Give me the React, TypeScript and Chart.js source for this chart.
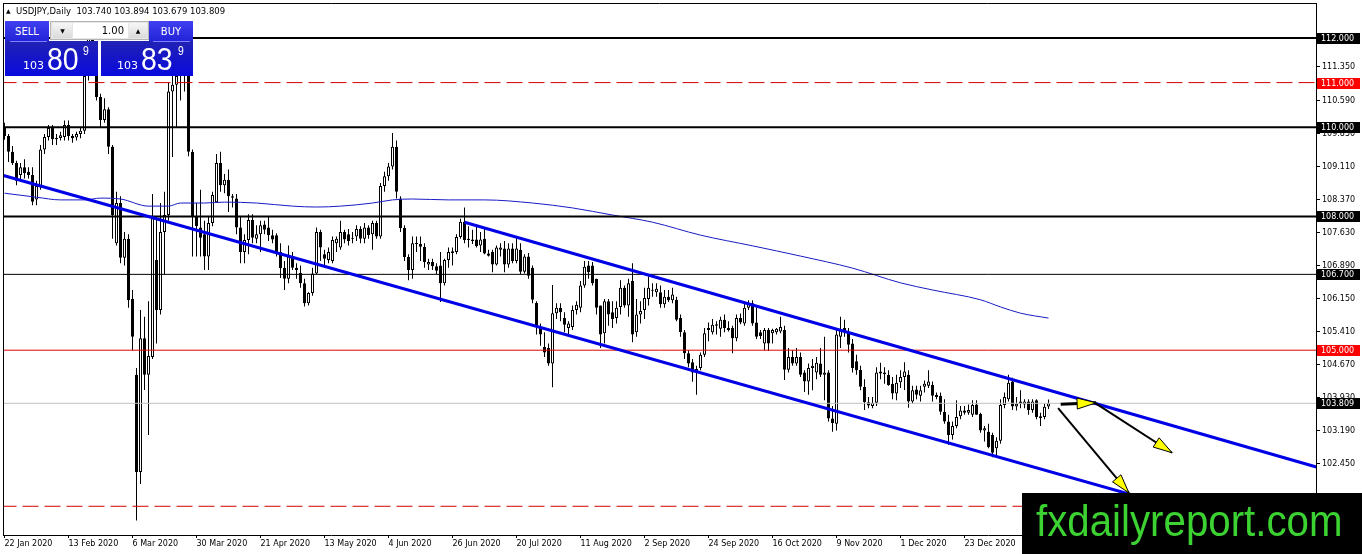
import React, { useEffect, useRef } from 'react';
import { Chart, registerables } from 'chart.js';

Chart.register(...registerables);

// ---------- candle data (USDJPY daily), one entry per bar ----------
const opens = [
  110.00,109.80,109.45,109.20,108.93,109.10,109.00,108.93,108.38,108.66,
  109.50,109.78,109.98,109.73,109.76,109.78,110.05,109.80,109.77,109.85,
  109.92,111.15,112.05,111.50,110.68,110.16,110.40,109.56,107.40,108.30,
  107.07,107.50,106.15,104.45,102.27,105.27,104.45,104.85,107.02,105.90,
  107.65,108.03,110.80,110.95,111.15,111.25,111.30,109.45,108.00,107.75,
  107.60,107.10,107.85,108.32,109.20,108.70,108.82,108.45,108.40,107.75,
  107.20,107.47,107.92,107.50,107.60,107.82,107.75,107.58,107.58,107.20,
  106.85,106.60,107.10,106.85,106.73,106.50,106.05,106.28,106.72,107.65,
  107.15,107.02,107.00,107.40,107.30,107.65,107.60,107.50,107.55,107.72,
  107.50,107.75,107.60,107.85,107.55,108.68,108.90,109.12,109.56,108.40,
  107.74,107.09,106.80,107.38,107.38,107.32,106.92,106.98,106.88,106.90,
  106.50,107.02,107.18,107.20,107.54,107.88,107.50,107.48,107.48,107.35,
  107.50,107.17,107.20,106.92,107.25,107.28,106.92,107.28,107.00,107.25,
  106.76,107.10,106.85,106.06,105.52,105.07,105.05,104.70,105.83,105.95,
  105.72,105.50,105.52,105.90,105.95,106.45,106.90,106.90,106.60,106.00,
  105.38,106.10,105.85,105.72,105.97,106.40,106.00,106.55,105.40,105.80,
  105.90,106.15,106.35,106.30,106.30,106.03,106.20,106.12,106.13,105.72,
  105.40,104.93,104.73,104.50,104.60,104.90,105.45,105.40,105.55,105.48,
  105.68,105.50,105.50,105.27,105.72,105.60,105.95,106.05,105.62,105.40,
  105.15,105.45,105.38,105.40,105.42,105.45,104.56,104.85,104.70,104.85,
  104.50,104.30,104.60,104.50,104.70,104.45,104.50,103.47,103.35,105.30,
  105.50,105.40,105.15,104.75,104.56,104.18,103.83,103.75,103.82,104.48,
  104.46,104.45,104.25,104.03,104.28,104.40,104.45,103.85,104.12,103.98,
  104.18,104.20,104.22,104.00,103.98,103.62,103.40,103.10,103.30,103.52,
  103.65,103.60,103.55,103.78,103.57,103.20,103.17,103.10,102.80,102.97,
  103.77,103.90,104.30,103.74,103.85,103.78,103.85,103.66,103.88,103.52,
  103.50,103.740,
];
const highs = [
  110.10,109.85,109.58,109.25,109.20,109.28,109.10,109.10,108.80,109.60,
  109.85,110.05,110.05,109.85,109.90,110.15,110.15,109.85,109.90,110.00,
  111.25,112.20,112.20,111.55,110.75,110.65,110.45,109.60,108.55,108.45,
  107.65,107.60,106.35,104.60,105.90,105.75,106.10,108.50,108.00,108.30,
  108.55,111.00,111.60,111.50,111.70,111.70,111.40,109.50,108.30,108.60,
  107.90,108.00,108.55,109.40,109.45,108.95,109.05,108.50,108.50,108.00,
  107.60,108.05,108.05,107.80,107.90,107.90,108.00,107.70,107.62,107.40,
  107.00,107.35,107.20,106.95,106.90,106.60,106.30,106.85,107.75,107.70,
  107.25,107.30,107.55,107.55,107.90,107.70,107.72,107.65,107.80,107.78,
  107.85,107.80,107.90,107.90,108.75,109.00,109.20,109.87,109.70,108.45,
  107.80,107.15,107.55,107.55,107.55,107.40,107.05,107.05,106.95,107.20,
  107.05,107.30,107.30,107.60,107.95,108.20,107.78,107.70,107.78,107.65,
  107.72,107.25,107.25,107.35,107.40,107.45,107.40,107.40,107.55,107.40,
  107.15,107.18,106.90,106.10,105.60,105.40,105.15,106.46,106.05,106.05,
  105.85,105.65,106.00,106.10,106.55,107.00,107.00,106.98,106.60,106.00,
  106.15,106.15,106.10,106.10,106.57,106.45,106.60,106.95,106.15,106.10,
  106.40,106.65,106.50,106.50,106.45,106.35,106.35,106.40,106.20,105.80,
  105.45,105.00,104.80,104.65,104.95,105.50,105.62,105.70,105.65,105.75,
  105.80,105.65,105.55,105.80,105.82,106.05,106.12,106.12,105.95,105.45,
  105.50,105.50,105.48,105.50,105.75,105.55,105.05,105.00,105.05,104.95,
  104.55,104.70,104.80,104.85,105.05,105.30,104.55,103.75,105.50,105.75,
  105.68,105.50,105.25,104.90,104.65,104.35,103.95,103.95,104.62,104.72,
  104.62,104.55,104.40,104.45,104.55,104.73,104.55,104.20,104.20,104.20,
  104.32,104.55,104.30,104.05,104.05,103.90,103.55,103.40,103.88,103.75,
  103.75,103.78,103.88,103.88,103.60,103.30,103.35,103.15,103.05,103.90,
  104.05,104.45,104.38,103.95,104.10,103.90,103.90,103.90,103.90,103.60,
  103.80,103.894,
];
const lows = [
  109.72,109.22,109.15,108.70,108.80,108.85,108.85,108.25,108.25,108.60,
  109.40,109.70,109.60,109.60,109.70,109.70,109.70,109.65,109.70,109.75,
  109.85,111.05,111.30,110.60,110.00,110.10,109.40,107.50,107.35,106.95,
  106.90,105.95,105.00,101.18,102.00,104.11,103.10,104.80,105.15,105.80,
  106.70,107.90,109.33,110.00,110.60,110.80,109.35,107.10,107.10,107.10,
  106.80,106.80,107.78,108.30,108.55,108.52,108.10,108.20,107.60,106.95,
  106.95,107.15,107.40,107.40,107.20,107.60,107.45,107.40,107.10,106.62,
  106.35,106.50,106.80,106.60,106.40,105.98,106.00,106.22,106.70,107.00,
  106.90,106.95,106.95,107.20,107.25,107.40,107.35,107.40,107.45,107.40,
  107.40,107.50,107.25,107.50,107.50,108.55,108.80,109.05,108.40,107.65,
  107.00,106.57,106.60,107.20,107.00,106.85,106.80,106.80,106.70,106.08,
  106.45,106.85,106.90,107.15,107.50,107.40,107.30,107.38,107.30,107.20,
  107.15,107.10,106.75,106.90,107.10,106.75,106.85,106.95,106.95,106.70,
  106.72,106.60,106.05,105.35,105.10,104.85,104.65,104.17,105.70,105.65,
  105.40,105.30,105.45,105.80,105.85,106.40,106.60,106.45,105.80,105.05,
  105.15,105.55,105.50,105.60,105.80,105.95,105.75,105.18,105.30,105.60,
  105.70,106.00,106.20,106.20,105.95,105.95,106.08,106.05,105.65,105.30,
  104.80,104.62,104.29,104.00,104.55,104.85,105.20,105.35,105.35,105.30,
  105.40,105.42,104.93,105.20,105.58,105.55,105.90,105.55,105.25,105.25,
  105.00,104.98,105.15,105.35,105.38,104.33,104.50,104.65,104.65,104.40,
  104.06,104.00,104.10,104.35,104.40,103.88,103.40,103.17,103.20,105.05,
  105.30,104.95,104.50,104.45,104.10,103.66,103.70,103.70,103.75,104.35,
  104.25,104.20,103.90,103.88,104.15,104.11,103.71,103.80,103.90,103.85,
  104.05,104.15,103.85,103.90,103.55,103.35,102.88,103.00,103.25,103.45,
  103.55,103.55,103.50,103.55,103.15,102.95,102.80,102.60,102.62,102.90,
  103.70,103.85,103.66,103.65,103.70,103.70,103.55,103.60,103.45,103.30,
  103.45,103.679,
];
const closes = [
  109.80,109.45,109.20,108.80,109.10,108.97,108.93,108.33,108.68,109.50,
  109.78,109.98,109.73,109.76,109.82,110.05,109.80,109.75,109.85,109.92,
  111.15,112.05,111.55,110.68,110.16,110.40,109.56,108.03,108.30,107.07,
  107.50,106.12,105.30,102.27,105.27,104.45,104.87,107.96,105.90,107.65,
  108.03,110.80,110.95,111.15,111.25,111.30,109.45,108.00,107.78,107.52,
  107.10,107.85,108.48,109.20,108.70,108.82,108.45,108.42,107.75,107.20,
  107.47,107.92,107.52,107.60,107.80,107.70,107.58,107.48,107.20,106.84,
  106.60,107.10,106.85,106.80,106.50,106.05,106.28,106.72,107.65,107.30,
  107.05,107.20,107.47,107.50,107.65,107.48,107.45,107.52,107.72,107.50,
  107.75,107.58,107.85,107.55,108.68,108.90,109.12,109.56,108.55,107.74,
  107.09,106.80,107.40,107.40,107.32,106.98,106.98,106.88,106.78,106.50,
  107.02,107.20,107.22,107.54,107.88,107.47,107.47,107.45,107.33,107.48,
  107.17,107.12,106.92,107.30,107.30,106.92,107.28,107.00,107.28,106.76,
  107.10,106.67,106.13,105.52,105.35,104.95,104.70,105.83,105.95,105.85,
  105.57,105.60,105.90,106.02,106.45,106.87,106.75,106.50,105.95,105.35,
  106.10,105.80,105.70,105.95,106.40,106.00,106.50,105.35,105.80,105.88,
  106.17,106.40,106.33,106.38,106.03,106.20,106.12,106.25,105.68,105.40,
  104.93,104.70,104.50,104.58,104.90,105.38,105.50,105.57,105.58,105.68,
  105.50,105.45,105.27,105.72,105.62,105.95,106.05,105.60,105.30,105.32,
  105.45,105.15,105.45,105.48,105.52,104.56,104.85,104.70,104.85,104.45,
  104.30,104.60,104.65,104.72,104.45,104.50,103.47,103.37,105.35,105.45,
  105.42,105.12,104.60,104.55,104.18,103.83,103.76,103.82,104.50,104.52,
  104.50,104.22,104.03,104.27,104.40,104.52,103.85,104.10,104.00,104.10,
  104.25,104.30,103.98,103.95,103.62,103.40,103.10,103.30,103.50,103.65,
  103.60,103.66,103.77,103.55,103.20,103.25,102.83,102.70,102.97,103.77,
  103.95,104.27,103.74,103.80,103.80,103.85,103.66,103.85,103.50,103.48,
  103.73,103.809,
];

// ---------- axes ----------
const dateTickLabels = [
  '22 Jan 2020', '13 Feb 2020', '6 Mar 2020', '30 Mar 2020', '21 Apr 2020',
  '13 May 2020', '4 Jun 2020', '26 Jun 2020', '20 Jul 2020', '11 Aug 2020',
  '2 Sep 2020', '24 Sep 2020', '16 Oct 2020', '9 Nov 2020', '1 Dec 2020',
  '23 Dec 2020',
];
const barsPerDateTick = 16;
const priceTicks = [
  111.35, 110.59, 109.85, 109.11, 108.37, 107.63, 106.89, 106.15,
  105.41, 104.67, 103.93, 103.19, 102.45,
];

// ---------- moving average (sampled along the curve) ----------
const maBars = [0, 8, 14, 20, 24, 29, 36, 41, 44, 50, 55, 63, 72, 78, 84, 92, 97, 102, 111, 120, 132, 142, 152, 162, 174, 187, 199, 212, 224, 232, 244, 249, 254, 261];
const maValues = [108.52, 108.43, 108.37, 108.37, 108.41, 108.39, 108.23, 108.23, 108.30, 108.30, 108.32, 108.30, 108.23, 108.21, 108.23, 108.30, 108.37, 108.39, 108.37, 108.37, 108.30, 108.19, 108.03, 107.87, 107.58, 107.34, 107.11, 106.84, 106.51, 106.35, 106.13, 105.97, 105.83, 105.72];

// ---------- channel (trend lines): [bar, price] end points ----------
const upperChannelBars = [115, 328];
const upperChannelPrices = [107.87, 102.38];
const lowerChannelBars = [-1, 329];
const lowerChannelPrices = [108.935, 100.56];

// ---------- horizontal levels ----------
const levelValues = [112.0, 111.0, 110.0, 108.0, 106.7, 105.0, 103.809, 101.5];
const levelLabels = ['112.000', '111.000', '110.000', '108.000', '106.700', '105.000', '103.809', ''];

// ---------- arrows: start / tip in [bar, price] ----------
const arrowStartBars = [264.05, 272.6, 263.4];
const arrowStartPrices = [103.79, 103.82, 103.70];
const arrowEndBars = [272.9, 291.9, 281.1];
const arrowEndPrices = [103.82, 102.70, 101.80];

// ---------- header ----------
const symbolTitle = 'USDJPY,Daily';
const lastOHLC = ['103.740', '103.894', '103.679', '103.809'];
const lotSize = '1.00';
const watermarkText = 'fxdailyreport.com';

// styles (kept apart from values)
const levelColors = ['#000000', '#d40000', '#000000', '#000000', '#000000', '#e00000', '#c0c0c0', '#d40000'];
const levelWidths = [2, 1, 2, 2, 1, 1, 1, 1];
const levelDashed = [false, true, false, false, false, false, false, true];
const levelLabelBg = ['#000000', '#ff0000', '#000000', '#000000', '#000000', '#ff0000', '#000000', ''];
const arrowWidths = [3, 2, 2];

const AXIS_FONT = '"DejaVu Sans", sans-serif';

export default function App() {
  const ref = useRef<HTMLCanvasElement>(null);

  useEffect(() => {
    const canvas = ref.current;
    if (!canvas) return;

    const idx = closes.map((_, i) => i);

    const overlay = {
      id: 'mtOverlay',
      afterDatasetsDraw(chart: any) {
        const { ctx, scales } = chart;
        const xs = scales.x, ys = scales.y;
        ctx.save();
        for (let k = 0; k < arrowEndBars.length; k++) {
          const sx = xs.getPixelForValue(arrowStartBars[k]);
          const sy = ys.getPixelForValue(arrowStartPrices[k]);
          const tx = xs.getPixelForValue(arrowEndBars[k]);
          const ty = ys.getPixelForValue(arrowEndPrices[k]);
          const ang = Math.atan2(ty - sy, tx - sx);
          const L = 19, W = 5.5;
          const bx = tx - L * Math.cos(ang), by = ty - L * Math.sin(ang);
          const px = -Math.sin(ang) * W, py = Math.cos(ang) * W;
          ctx.beginPath();
          ctx.moveTo(tx, ty);
          ctx.lineTo(bx + px, by + py);
          ctx.lineTo(bx - px, by - py);
          ctx.closePath();
          ctx.fillStyle = '#ffff00';
          ctx.fill();
          ctx.lineWidth = 1;
          ctx.strokeStyle = '#000000';
          ctx.stroke();
        }
        ctx.restore();
      },
      afterDraw(chart: any) {
        const { ctx, chartArea, scales } = chart;
        const ys = scales.y;
        ctx.save();
        // frame: left and top edges
        ctx.strokeStyle = '#000';
        ctx.lineWidth = 1;
        ctx.beginPath();
        ctx.moveTo(chartArea.left + 0.5, chartArea.top);
        ctx.lineTo(chartArea.left + 0.5, chartArea.bottom);
        ctx.moveTo(chartArea.left, chartArea.top + 0.5);
        ctx.lineTo(chartArea.right, chartArea.top + 0.5);
        ctx.stroke();
        // price labels of the levels on the right scale
        ctx.font = '8px ' + AXIS_FONT;
        ctx.textBaseline = 'middle';
        ctx.textAlign = 'left';
        for (let k = 0; k < levelValues.length; k++) {
          if (!levelLabels[k]) continue;
          const y = Math.round(ys.getPixelForValue(levelValues[k]));
          ctx.fillStyle = levelLabelBg[k];
          ctx.fillRect(chartArea.right + 1, y - 5, 43, 11);
          ctx.fillStyle = '#ffffff';
          ctx.fillText(levelLabels[k], chartArea.right + 5, y + 0.5);
        }
        // watermark
        ctx.fillStyle = '#000000';
        ctx.fillRect(1022, 493, 340, 61);
        ctx.fillStyle = '#3cd232';
        ctx.font = '44px "Liberation Sans", Arial, sans-serif';
        ctx.textBaseline = 'alphabetic';
        ctx.translate(1036, 536);
        ctx.scale(0.915, 1);
        ctx.fillText(watermarkText, 0, 0);
        ctx.restore();
      },
    };

    const levelDatasets = levelValues.map((v, k) => ({
      type: 'line' as const,
      data: [{ x: -1, y: v }, { x: 330, y: v }],
      borderColor: levelColors[k],
      borderWidth: levelWidths[k],
      borderDash: levelDashed[k] ? [16, 6] : [],
      pointRadius: 0,
      clip: 0,
      order: 3,
    }));

    const arrowDatasets = arrowEndBars.map((_, k) => ({
      type: 'line' as const,
      data: [
        { x: arrowStartBars[k], y: arrowStartPrices[k] },
        { x: arrowEndBars[k], y: arrowEndPrices[k] },
      ],
      borderColor: '#000000',
      borderWidth: arrowWidths[k],
      pointRadius: 0,
      clip: 0,
      order: 1,
    }));

    const chart = new Chart(canvas, {
      type: 'bar',
      data: {
        datasets: [
          {
            type: 'bar',
            data: idx.map((i) => ({ x: i, y: [lows[i], highs[i]] })),
            backgroundColor: '#000000',
            borderWidth: 0,
            barThickness: 1,
            grouped: false,
            inflateAmount: 0,
            order: 6,
          } as any,
          {
            type: 'bar',
            data: idx.map((i) => ({ x: i, y: [opens[i], closes[i]] })),
            backgroundColor: idx.map((i) => (closes[i] >= opens[i] ? '#ffffff' : '#000000')),
            borderColor: '#000000',
            borderWidth: 1,
            borderSkipped: false,
            barThickness: 3,
            minBarLength: 1,
            grouped: false,
            inflateAmount: 0,
            order: 5,
          } as any,
          {
            type: 'line',
            data: maBars.map((b, k) => ({ x: b, y: maValues[k] })),
            borderColor: '#1a1ac4',
            borderWidth: 1,
            pointRadius: 0,
            cubicInterpolationMode: 'monotone',
            clip: 0,
            order: 4,
          } as any,
          ...levelDatasets,
          {
            type: 'line',
            data: upperChannelBars.map((b, k) => ({ x: b, y: upperChannelPrices[k] })),
            borderColor: '#0000e6',
            borderWidth: 3,
            pointRadius: 0,
            clip: 0,
            order: 2,
          } as any,
          {
            type: 'line',
            data: lowerChannelBars.map((b, k) => ({ x: b, y: lowerChannelPrices[k] })),
            borderColor: '#0000e6',
            borderWidth: 3,
            pointRadius: 0,
            clip: 0,
            order: 2,
          } as any,
          ...arrowDatasets,
        ],
      },
      options: {
        responsive: false,
        animation: false,
        events: [],
        devicePixelRatio: 1,
        layout: { padding: { left: 3, top: 3, right: 0, bottom: 0 } },
        plugins: { legend: { display: false }, tooltip: { enabled: false } },
        scales: {
          x: {
            type: 'linear',
            min: -0.375,
            max: 327.875,
            offset: false,
            grid: { display: true, drawOnChartArea: false, drawTicks: true, tickLength: 3, color: '#000', offset: false },
            border: { display: true, color: '#000', width: 1 },
            ticks: {
              color: '#000',
              font: { family: AXIS_FONT, size: 8 },
              align: 'start',
              maxRotation: 0,
              minRotation: 0,
              autoSkip: false,
              padding: 1,
              callback: (v: any) => {
                const k = Math.round(Number(v) / barsPerDateTick);
                return dateTickLabels[k] ?? '';
              },
            },
            afterBuildTicks: (s: any) => {
              s.ticks = dateTickLabels.map((_, k) => ({ value: k * barsPerDateTick }));
            },
            afterFit: (s: any) => {
              s.height = 19;
              s.paddingLeft = 0;
              s.paddingRight = 0;
            },
          } as any,
          y: {
            type: 'linear',
            position: 'right',
            min: 100.856,
            max: 112.785,
            beginAtZero: false,
            grid: { display: true, drawOnChartArea: false, drawTicks: true, tickLength: 4, color: '#000' },
            border: { display: true, color: '#000', width: 1 },
            ticks: {
              color: '#000',
              font: { family: AXIS_FONT, size: 8 },
              autoSkip: false,
              padding: 2,
              callback: (v: any) => Number(v).toFixed(3),
            },
            afterBuildTicks: (s: any) => {
              s.ticks = priceTicks.map((v) => ({ value: v }));
            },
            afterFit: (s: any) => {
              s.width = 46;
              s.paddingTop = 0;
              s.paddingBottom = 0;
            },
          } as any,
        },
      },
      plugins: [overlay],
    } as any);

    return () => chart.destroy();
  }, []);

  const btnBlue = 'linear-gradient(180deg, #4040f0 0%, #2222d8 100%)';
  const priceBlue = 'linear-gradient(180deg, #2222b4 0%, #1515c8 50%, #0a0ae0 100%)';
  const abs = (s: React.CSSProperties): React.CSSProperties => ({ position: 'absolute', ...s });

  const priceBox = (left: number, width: number, big: string, smallLeft: number, bigLeft: number, supLeft: number) => (
    <div style={abs({ left, top: 41, width, height: 35, background: priceBlue })}>
      <div style={abs({ left: smallLeft, top: 18.7, font: '11px "DejaVu Sans"', lineHeight: '11px', color: '#fff' })}>103</div>
      <div style={abs({ left: bigLeft, top: 1.5, font: '32px "Liberation Sans"', lineHeight: '32px', color: '#fff', transform: 'scaleX(0.89)', transformOrigin: 'left top' })}>{big}</div>
      <div style={abs({ left: supLeft, top: 3.3, font: '13px "Liberation Sans"', lineHeight: '13px', color: '#fff', transform: 'scaleX(0.8)', transformOrigin: 'left top' })}>9</div>
    </div>
  );

  return (
    <div style={{ position: 'fixed', left: 0, top: 0, width: 1362, height: 554, background: '#fff', overflow: 'hidden' }}>
      <canvas ref={ref} width={1362} height={554} style={{ position: 'absolute', left: 0, top: 0, width: 1362, height: 554 }} />
      {/* header */}
      <div style={abs({ left: 6, top: 5, font: '8.5px "DejaVu Sans"', lineHeight: '11px', color: '#000', whiteSpace: 'pre' })}>
        <span style={{ fontSize: 6, verticalAlign: 1 }}>▲</span>
        {'  ' + symbolTitle + '  ' + lastOHLC.join(' ')}
      </div>
      {/* one-click trading panel */}
      <div style={abs({ left: 5, top: 21, width: 44, height: 20, background: btnBlue, color: '#fff', font: '10px "DejaVu Sans"', display: 'flex', alignItems: 'center', justifyContent: 'center' })}>SELL</div>
      <div style={abs({ left: 50, top: 21, width: 97, height: 17, background: '#e6e6e6', border: '1px solid #b4b4b4' })}>
        <div style={abs({ left: 2, top: 1, width: 19, height: 15, background: 'linear-gradient(#f6f6f6,#dadada)', font: '6px "DejaVu Sans"', display: 'flex', alignItems: 'center', justifyContent: 'center', color: '#000' })}>▼</div>
        <div style={abs({ left: 22, top: 1, width: 55, height: 15, background: '#fff', font: '10px "DejaVu Sans"', lineHeight: '15px', textAlign: 'right', color: '#000', boxSizing: 'border-box', paddingRight: 4 })}>{lotSize}</div>
        <div style={abs({ left: 78, top: 1, width: 18, height: 15, background: 'linear-gradient(#f6f6f6,#dadada)', font: '6px "DejaVu Sans"', display: 'flex', alignItems: 'center', justifyContent: 'center', color: '#000' })}>▲</div>
      </div>
      <div style={abs({ left: 149, top: 21, width: 44, height: 20, background: btnBlue, color: '#fff', font: '10px "DejaVu Sans"', display: 'flex', alignItems: 'center', justifyContent: 'center' })}>BUY</div>
      {priceBox(5, 93, '80', 18, 42, 78)}
      {priceBox(101, 92, '83', 16, 40, 77)}
      <div style={abs({ left: 10, top: 41, width: 37, height: 1, background: '#8080ff' })} />
      <div style={abs({ left: 153, top: 41, width: 37, height: 1, background: '#8080ff' })} />
    </div>
  );
}
